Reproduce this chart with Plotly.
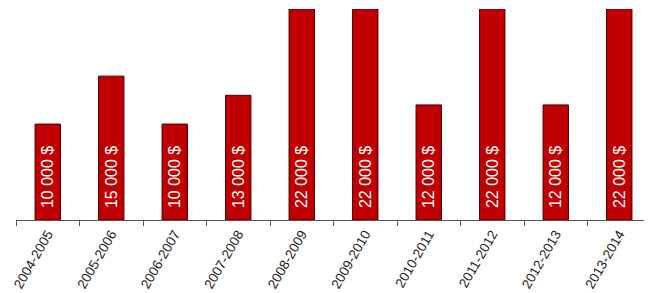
import plotly.graph_objects as go

categories = ["2004-2005", "2005-2006", "2006-2007", "2007-2008", "2008-2009",
              "2009-2010", "2010-2011", "2011-2012", "2012-2013", "2013-2014"]
values = [10000, 15000, 10000, 13000, 22000, 22000, 12000, 22000, 12000, 22000]
labels = ["10 000 $", "15 000 $", "10 000 $", "13 000 $", "22 000 $",
          "22 000 $", "12 000 $", "22 000 $", "12 000 $", "22 000 $"]

fig = go.Figure(go.Bar(
    x=categories, y=values, text=["\u00a0\u00a0" + s for s in labels],
    textposition="inside", insidetextanchor="start", textangle=-90,
    textfont=dict(family="Liberation Sans, Arial, sans-serif", size=16, color="white"),
    marker=dict(color="#C00000", line=dict(color="#4a0000", width=1)),
    width=0.4, hoverinfo="skip", cliponaxis=False,
))

# page body has an 8px default margin, so the figure is sized to the remaining area
fig.update_layout(
    template="none",
    width=644, height=285,
    margin=dict(l=8, r=1, t=1, b=73, autoexpand=False),
    paper_bgcolor="white", plot_bgcolor="white",
    showlegend=False,
    uniformtext=dict(minsize=16, mode="show"),
    xaxis=dict(
        type="category", tickangle=-60, tickson="boundaries", automargin=False,
        ticks="outside", ticklen=5, tickcolor="#555", tickwidth=1,
        showline=True, linecolor="#555", linewidth=1,
        showgrid=False,
        tickfont=dict(family="Liberation Sans, Arial, sans-serif", size=13.5, color="#222"),
        range=[-0.5, 9.5],
    ),
    yaxis=dict(range=[0, 22000], visible=False, showgrid=False, zeroline=False, automargin=False),
)

fig.write_html("out.html")
